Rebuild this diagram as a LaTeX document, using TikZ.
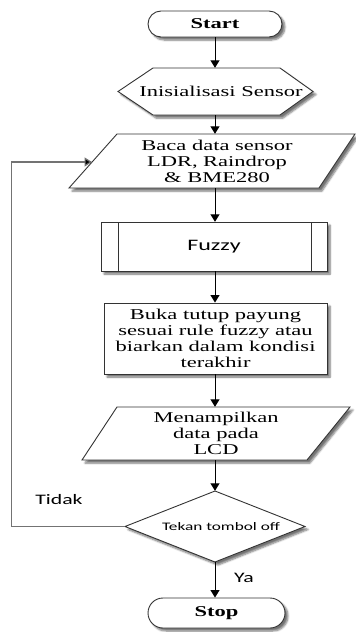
\documentclass[tikz,border=0pt]{standalone}
\usepackage{fontspec}
\setmainfont{Liberation Serif}
\newfontfamily\wideserif[FakeStretch=1.5]{Liberation Serif}
\newfontfamily\widesans[FakeStretch=1.5]{Carlito}
\usetikzlibrary{arrows.meta,shapes.misc,shadows.blur}

\tikzset{
  outline/.style={draw=black!80, line width=0.9pt, fill=white,
    blur shadow={shadow xshift=3pt, shadow yshift=-3pt,
      shadow opacity=55, shadow blur steps=6}},
  hold/.style={rectangle, inner sep=0pt, draw=none, align=center},
  seriftext/.style={font=\wideserif\fontsize{15}{16}\selectfont},
  termtext/.style={font=\wideserif\bfseries\fontsize{15}{16}\selectfont},
  sanstext/.style={font=\widesans\fontsize{#1}{#1}\selectfont},
  terminal/.style={outline, rounded rectangle, inner sep=0pt},
  arr/.style={draw=black, line width=1pt, -{Triangle[length=7.5pt,width=9pt]}},
  looparr/.style={draw=black!55, line width=1.2pt, -{Triangle[length=7.5pt,width=9pt,fill=black]}},
}

\begin{document}
\begin{tikzpicture}[x=1pt,y=-1pt]
\useasboundingbox (0,0) rectangle (356,632);

% Start
\node[terminal, termtext, minimum width=134pt, minimum height=26pt] (start) at (215,24) {Start};

% Initialisation (hexagon)
\path[outline] (118,91.5) -- (153,68) -- (280,68) -- (313,91.5) -- (280,115) -- (153,115) -- cycle;
\node[hold, seriftext, minimum height=47pt] (init) at (221,91.5) {Inisialisasi Sensor};

% Read sensor data (input/output)
\path[outline] (117,134) -- (355,134) -- (319,188) -- (69,188) -- cycle;
\node[hold, seriftext, minimum height=54pt] (baca) at (217,161) {Baca data sensor\\LDR, Raindrop\\\& BME280};
\coordinate (bacaW) at (92,162);

% Fuzzy (predefined process)
\path[outline] (101,222) rectangle (327,271);
\draw[draw=black!80, line width=0.9pt] (118,222) -- (118,271) (311,222) -- (311,271);
\node[hold, sanstext=16, minimum height=49pt] (fuzzy) at (214,246.5) {Fuzzy};

% Action
\node[outline, rectangle, inner sep=0pt, align=center, seriftext,
      minimum width=223pt, minimum height=71pt] (buka) at (215.5,338.5)
      {Buka tutup payung\\sesuai rule fuzzy atau\\biarkan dalam kondisi\\terakhir};

% Display on LCD (input/output)
\path[outline] (117,407) -- (350,407) -- (307,460) -- (82,460) -- cycle;
\node[hold, seriftext, minimum height=53pt] (lcd) at (216,433.5) {Menampilkan\\data pada\\LCD};

% Decision
\path[outline] (215,491) -- (305,526.5) -- (215,562) -- (125,526.5) -- cycle;
\node[hold, sanstext=11.5, minimum width=180pt, minimum height=71pt] (dec) at (215,526.5) {\hspace*{12pt}Tekan tombol off};

% Stop
\node[terminal, termtext, minimum width=137pt, minimum height=30pt] (stop) at (216.5,613) {Stop};

% Connectors
\draw[arr] (start.south) -- (start.south |- init.north);
\draw[arr] (start.south |- init.south) -- (start.south |- baca.north);
\draw[arr] (start.south |- baca.south) -- (start.south |- fuzzy.north);
\draw[arr] (start.south |- fuzzy.south) -- (start.south |- buka.north);
\draw[arr] (start.south |- buka.south) -- (start.south |- lcd.north);
\draw[arr] (start.south |- lcd.south) -- (dec.north);
\draw[arr] (dec.south) -- (dec.south |- stop.north);
\draw[looparr] (dec.west) -- ++(-113,0) |- (bacaW);

% Branch labels
\node[sanstext=14.5] (tidak) at (59,500) {Tidak};
\node[sanstext=14.5] (ya) at (244,578) {Ya};
\end{tikzpicture}
\end{document}
